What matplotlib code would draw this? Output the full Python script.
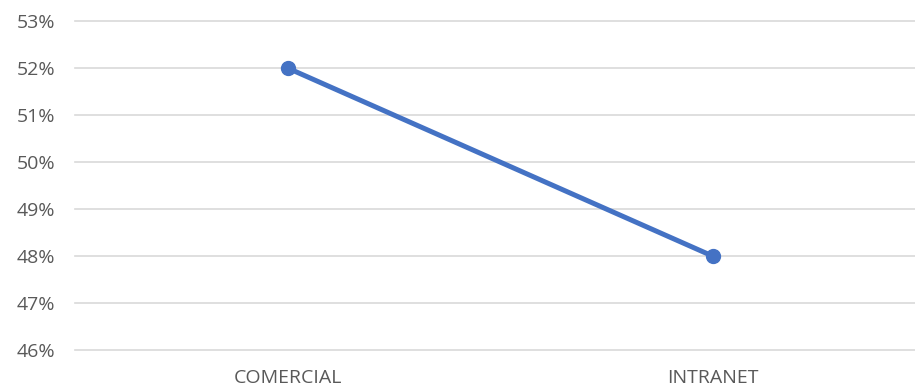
import matplotlib
matplotlib.use('Agg')
import matplotlib.pyplot as plt
from matplotlib.ticker import FuncFormatter, MultipleLocator

categories = ['COMERCIAL', 'INTRANET']
values = [0.52, 0.48]

plt.rcParams['font.family'] = ['Open Sans', 'DejaVu Sans']

fig = plt.figure(figsize=(9.15, 3.92), dpi=100)
ax = fig.add_axes([75 / 915, 1 - 350 / 392, 850 / 915, 329 / 392])

x = [0.25, 0.75]
ax.plot(x, values, color='#4472C4', linewidth=3.6, marker='o', markersize=10,
        solid_capstyle='round', zorder=3)

ax.set_xlim(0, 1)
ax.set_ylim(0.46, 0.53)
ax.yaxis.set_major_locator(MultipleLocator(0.01))
ax.yaxis.set_major_formatter(FuncFormatter(lambda v, p: f'{v * 100:.0f}%'))
ax.set_xticks(x)
ax.set_xticklabels(categories)

ax.grid(axis='y', color='#d9d9d9', linewidth=1.2)
for gl in ax.get_ygridlines():
    gl.set_clip_on(False)
ax.set_axisbelow(True)
for s in ax.spines.values():
    s.set_visible(False)
ax.tick_params(axis='both', length=0, labelsize=14, labelcolor='#595959')
ax.tick_params(axis='y', pad=14)
ax.tick_params(axis='x', pad=14)

fig.savefig('out.png', dpi=100, facecolor='white')
